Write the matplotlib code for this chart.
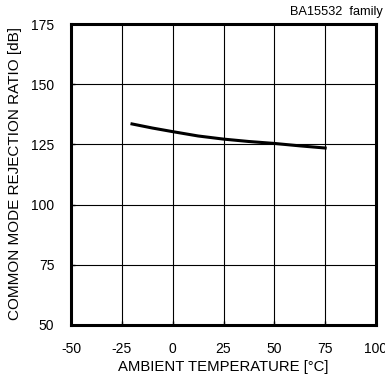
import numpy as np
import matplotlib
matplotlib.use("Agg")
import matplotlib.pyplot as plt

# data
temp_c = [-20, -10, 0, 12.5, 25, 37.5, 50, 62.5, 75]
cmrr_db = [133.5, 131.8, 130.3, 128.5, 127.2, 126.2, 125.4, 124.4, 123.5]

x_ticks = [-50, -25, 0, 25, 50, 75, 100]
y_ticks = [50, 75, 100, 125, 150, 175]

plt.rcParams['font.family'] = ['Liberation Sans', 'DejaVu Sans']
plt.rcParams['axes.unicode_minus'] = False

fig = plt.figure(figsize=(3.85, 3.81), dpi=100)
ax = fig.add_axes([71 / 385, 1 - 325 / 381, 305 / 385, 301 / 381])

ax.plot(temp_c, cmrr_db, color='black', lw=2.2, zorder=3)

ax.set_xlim(-50, 100)
ax.set_ylim(50, 175)
ax.set_xticks(x_ticks)
ax.set_yticks(y_ticks)
ax.grid(True, color='black', lw=0.8)
ax.tick_params(direction='in', length=3, width=1, labelsize=10)
ax.tick_params(axis='x', pad=12)
ax.tick_params(axis='y', pad=12)
for s in ax.spines.values():
    s.set_linewidth(2.2)

ax.set_xlabel("AMBIENT TEMPERATURE [°C]", fontsize=10.7, labelpad=3)
ax.set_ylabel("COMMON MODE REJECTION RATIO [dB]", fontsize=11)
ax.yaxis.set_label_coords(-0.162, 0.503)
fig.text(383 / 385, 1 - 12 / 381, "BA15532  family", fontsize=9.2, ha='right', va='center')

fig.savefig("out.png", dpi=100)
